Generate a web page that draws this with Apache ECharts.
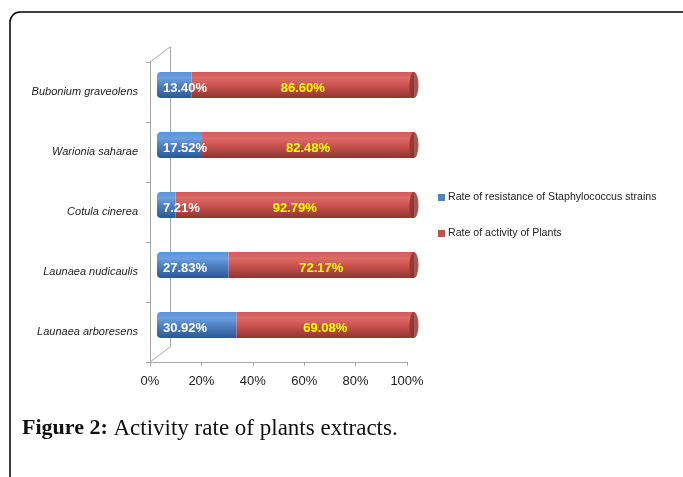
<!DOCTYPE html>
<html>
<head>
<meta charset="utf-8">
<script src="https://cdn.jsdelivr.net/npm/echarts@6/dist/echarts.min.js"></script>
<style>html,body{margin:0;padding:0;background:#fff;}#c{width:683px;height:477px;}</style>
</head>
<body>
<div id="c"></div>
<script>
const categories = ['Bubonium graveolens', 'Warionia saharae', 'Cotula cinerea', 'Launaea nudicaulis', 'Launaea arboresens'];
const resistance = [13.40, 17.52, 7.21, 27.83, 30.92];
const activity = [86.60, 82.48, 92.79, 72.17, 69.08];
const seriesNames = ['Rate of resistance of Staphylococcus strains', 'Rate of activity of Plants'];
const xMin = 0, xMax = 100, xStep = 20;
const caption = ['Figure 2:', 'Activity rate of plants extracts.'];

const totals = resistance.map((v, i) => +(v + activity[i]).toFixed(2));

// layout constants
const G = {left: 150, top: 62, width: 257, height: 300};
const depth = {dx: 20, dy: -15};
const barShift = {dx: 7, dy: -7};
const wallColor = '#a6a6a6';
const seriesColors = ['#4f81bd', '#c0504d'];

const chart = echarts.init(document.getElementById('c'), null, {renderer: 'canvas'});

const blueGrad = new echarts.graphic.LinearGradient(0, 0, 0, 1, [
  {offset: 0, color: '#5f92d6'},
  {offset: 0.25, color: '#6b9ee0'},
  {offset: 0.5, color: '#4f82c4'},
  {offset: 1, color: '#2c5890'}
]);
const redGrad = new echarts.graphic.LinearGradient(0, 0, 0, 1, [
  {offset: 0, color: '#d25c59'},
  {offset: 0.25, color: '#dc6a67'},
  {offset: 0.5, color: '#cc5451'},
  {offset: 1, color: '#933330'}
]);

const option = {
  animation: false,
  backgroundColor: '#fff',
  textStyle: {fontFamily: 'Liberation Sans, Arial, sans-serif'},
  grid: [
    {left: G.left, top: G.top, width: G.width, height: G.height},
    {left: G.left + depth.dx, top: G.top + depth.dy, width: G.width, height: G.height},
    {left: G.left + barShift.dx, top: G.top + barShift.dy, width: G.width, height: G.height}
  ],
  xAxis: [
    {gridIndex: 0, type: 'value', min: xMin, max: xMax, interval: xStep,
      axisLine: {show: true, lineStyle: {color: wallColor, width: 1}},
      axisTick: {show: true, length: 4, lineStyle: {color: wallColor}},
      splitLine: {show: false},
      axisLabel: {formatter: '{value}%', fontSize: 13, color: '#222', margin: 13}},
    {gridIndex: 1, type: 'value', min: xMin, max: xMax, show: false},
    {gridIndex: 2, type: 'value', min: xMin, max: xMax, show: false}
  ],
  yAxis: [
    {gridIndex: 0, type: 'category', data: categories, inverse: true,
      axisLine: {show: true, lineStyle: {color: wallColor, width: 1}},
      axisTick: {show: true, length: 4, lineStyle: {color: wallColor}},
      axisLabel: {fontSize: 11, fontStyle: 'italic', color: '#222', margin: 12}},
    {gridIndex: 1, type: 'category', data: categories, inverse: true,
      axisLine: {show: true, lineStyle: {color: wallColor, width: 1}},
      axisTick: {show: false}, axisLabel: {show: false}},
    {gridIndex: 2, type: 'category', data: categories, inverse: true, show: false}
  ],
  legend: {
    orient: 'vertical', left: 433, top: 187,
    itemWidth: 7, itemHeight: 7, itemGap: 25,
    icon: 'rect',
    data: seriesNames.map((n, i) => ({name: n, itemStyle: {color: seriesColors[i]}})),
    textStyle: {fontSize: 10.6, color: '#222', padding: [0, 0, 0, -2]}
  },
  series: [
    {name: seriesNames[0], type: 'bar', stack: 'tot', xAxisIndex: 2, yAxisIndex: 2,
      data: resistance, barWidth: 26, color: seriesColors[0],
      itemStyle: {color: blueGrad, borderRadius: [4, 0, 0, 4]},
      label: {show: true, position: 'insideLeft', distance: 6, offset: [0, 3],
        formatter: p => p.value.toFixed(2) + '%', color: '#fff', fontWeight: 'bold', fontSize: 13}},
    {name: seriesNames[1], type: 'bar', stack: 'tot', xAxisIndex: 2, yAxisIndex: 2,
      data: activity, barWidth: 26, color: seriesColors[1],
      itemStyle: {color: redGrad},
      label: {show: true, position: 'inside', offset: [0, 3],
        formatter: p => p.value.toFixed(2) + '%', color: '#ffff00', fontWeight: 'bold', fontSize: 13}},
    {name: 'cap', type: 'scatter', xAxisIndex: 2, yAxisIndex: 2,
      data: totals, symbol: 'circle', symbolSize: [9, 26],
      itemStyle: {color: '#8a302d'}, z: 3, silent: true}
  ],
  graphic: [
    {type: 'rect', shape: {x: 10, y: 12, width: 690, height: 500, r: 10},
      style: {fill: 'none', stroke: '#000', lineWidth: 1.5}, silent: true},
    {type: 'line', shape: {x1: G.left, y1: G.top, x2: G.left + depth.dx, y2: G.top + depth.dy},
      style: {stroke: wallColor, lineWidth: 1}, silent: true},
    {type: 'line', shape: {x1: G.left, y1: G.top + G.height, x2: G.left + depth.dx, y2: G.top + G.height + depth.dy},
      style: {stroke: wallColor, lineWidth: 1}, silent: true},
    {type: 'text', left: 22, top: 417,
      style: {
        text: '{b|' + caption[0] + '} ' + caption[1],
        font: '23px "Liberation Serif", serif',
        fill: '#111',
        rich: {b: {fontWeight: 'bold', fontSize: 22, fontFamily: 'Liberation Serif', fill: '#111'}}
      }, silent: true}
  ]
};
chart.setOption(option);
</script>
</body>
</html>
